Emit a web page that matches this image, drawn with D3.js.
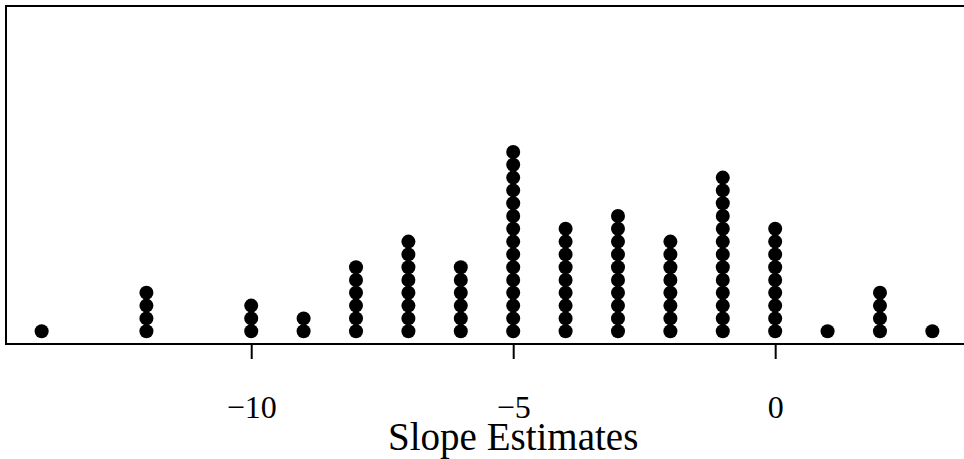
<!DOCTYPE html>
<html>
<head>
<meta charset="utf-8">
<script src="https://cdn.jsdelivr.net/npm/d3@7"></script>
<style>
  body { margin: 0; background: #fff; }
  svg { display: block; }
  text { font-family: "Liberation Serif", "Times New Roman", serif; fill: #000; }
</style>
</head>
<body>
<div class="dotplot"></div>
<script>
// slope estimate values and how many times each one occurs
const slopes = [-14, -12, -10, -9, -8, -7, -6, -5, -4, -3, -2, -1, 0, 1, 2, 3];
const counts = [1, 4, 3, 2, 6, 8, 6, 15, 9, 10, 8, 13, 9, 1, 4, 1];
const tickValues = [-10, -5, 0];
const axisTitle = "Slope Estimates";

const width = 964, height = 459;
const plotLeft = 6, plotRight = 968, plotTop = 6, plotBottom = 344;

const svg = d3.select(".dotplot")
  .append("svg")
  .attr("width", width)
  .attr("height", height);

// R-like 4% padding around the data range
const x = d3.scaleLinear()
  .domain([-14.68, 3.68])
  .range([plotLeft, plotRight]);

// stack position -> pixel
const y = d3.scaleLinear()
  .domain([0, 15])
  .range([plotBottom, 152]);

// one point per observation, stacked
const points = [];
slopes.forEach((s, i) => {
  for (let k = 1; k <= counts[i]; k++) points.push({ slope: s, level: k });
});

svg.append("g")
  .selectAll("circle")
  .data(points)
  .join("circle")
  .attr("cx", d => x(d.slope))
  .attr("cy", d => y(d.level))
  .attr("r", 7)
  .attr("fill", "#000");

// frame: top, left and bottom
svg.append("path")
  .attr("d", `M${plotRight},${plotTop}H${plotLeft}V${plotBottom}H${plotRight}`)
  .attr("fill", "none")
  .attr("stroke", "#000")
  .attr("stroke-width", 2);

// x axis ticks and labels
const axis = svg.append("g")
  .attr("transform", `translate(0,${plotBottom})`)
  .call(d3.axisBottom(x)
    .tickValues(tickValues)
    .tickSize(15)
    .tickPadding(0)
    .tickFormat(d => d3.format("")(d).replace("-", "\u2212")));

axis.select(".domain").remove();
axis.selectAll(".tick line").attr("stroke", "#000").attr("stroke-width", 2);
axis.selectAll(".tick text")
  .attr("y", 0)
  .attr("dy", null)
  .attr("transform", "translate(0,74)")
  .attr("font-family", "Liberation Serif, serif")
  .style("font-size", "32px");

svg.append("text")
  .attr("x", x(-5))
  .attr("y", 450)
  .attr("text-anchor", "middle")
  .attr("font-family", "Liberation Serif, serif")
  .style("font-size", "39px")
  .text(axisTitle);
</script>
</body>
</html>
